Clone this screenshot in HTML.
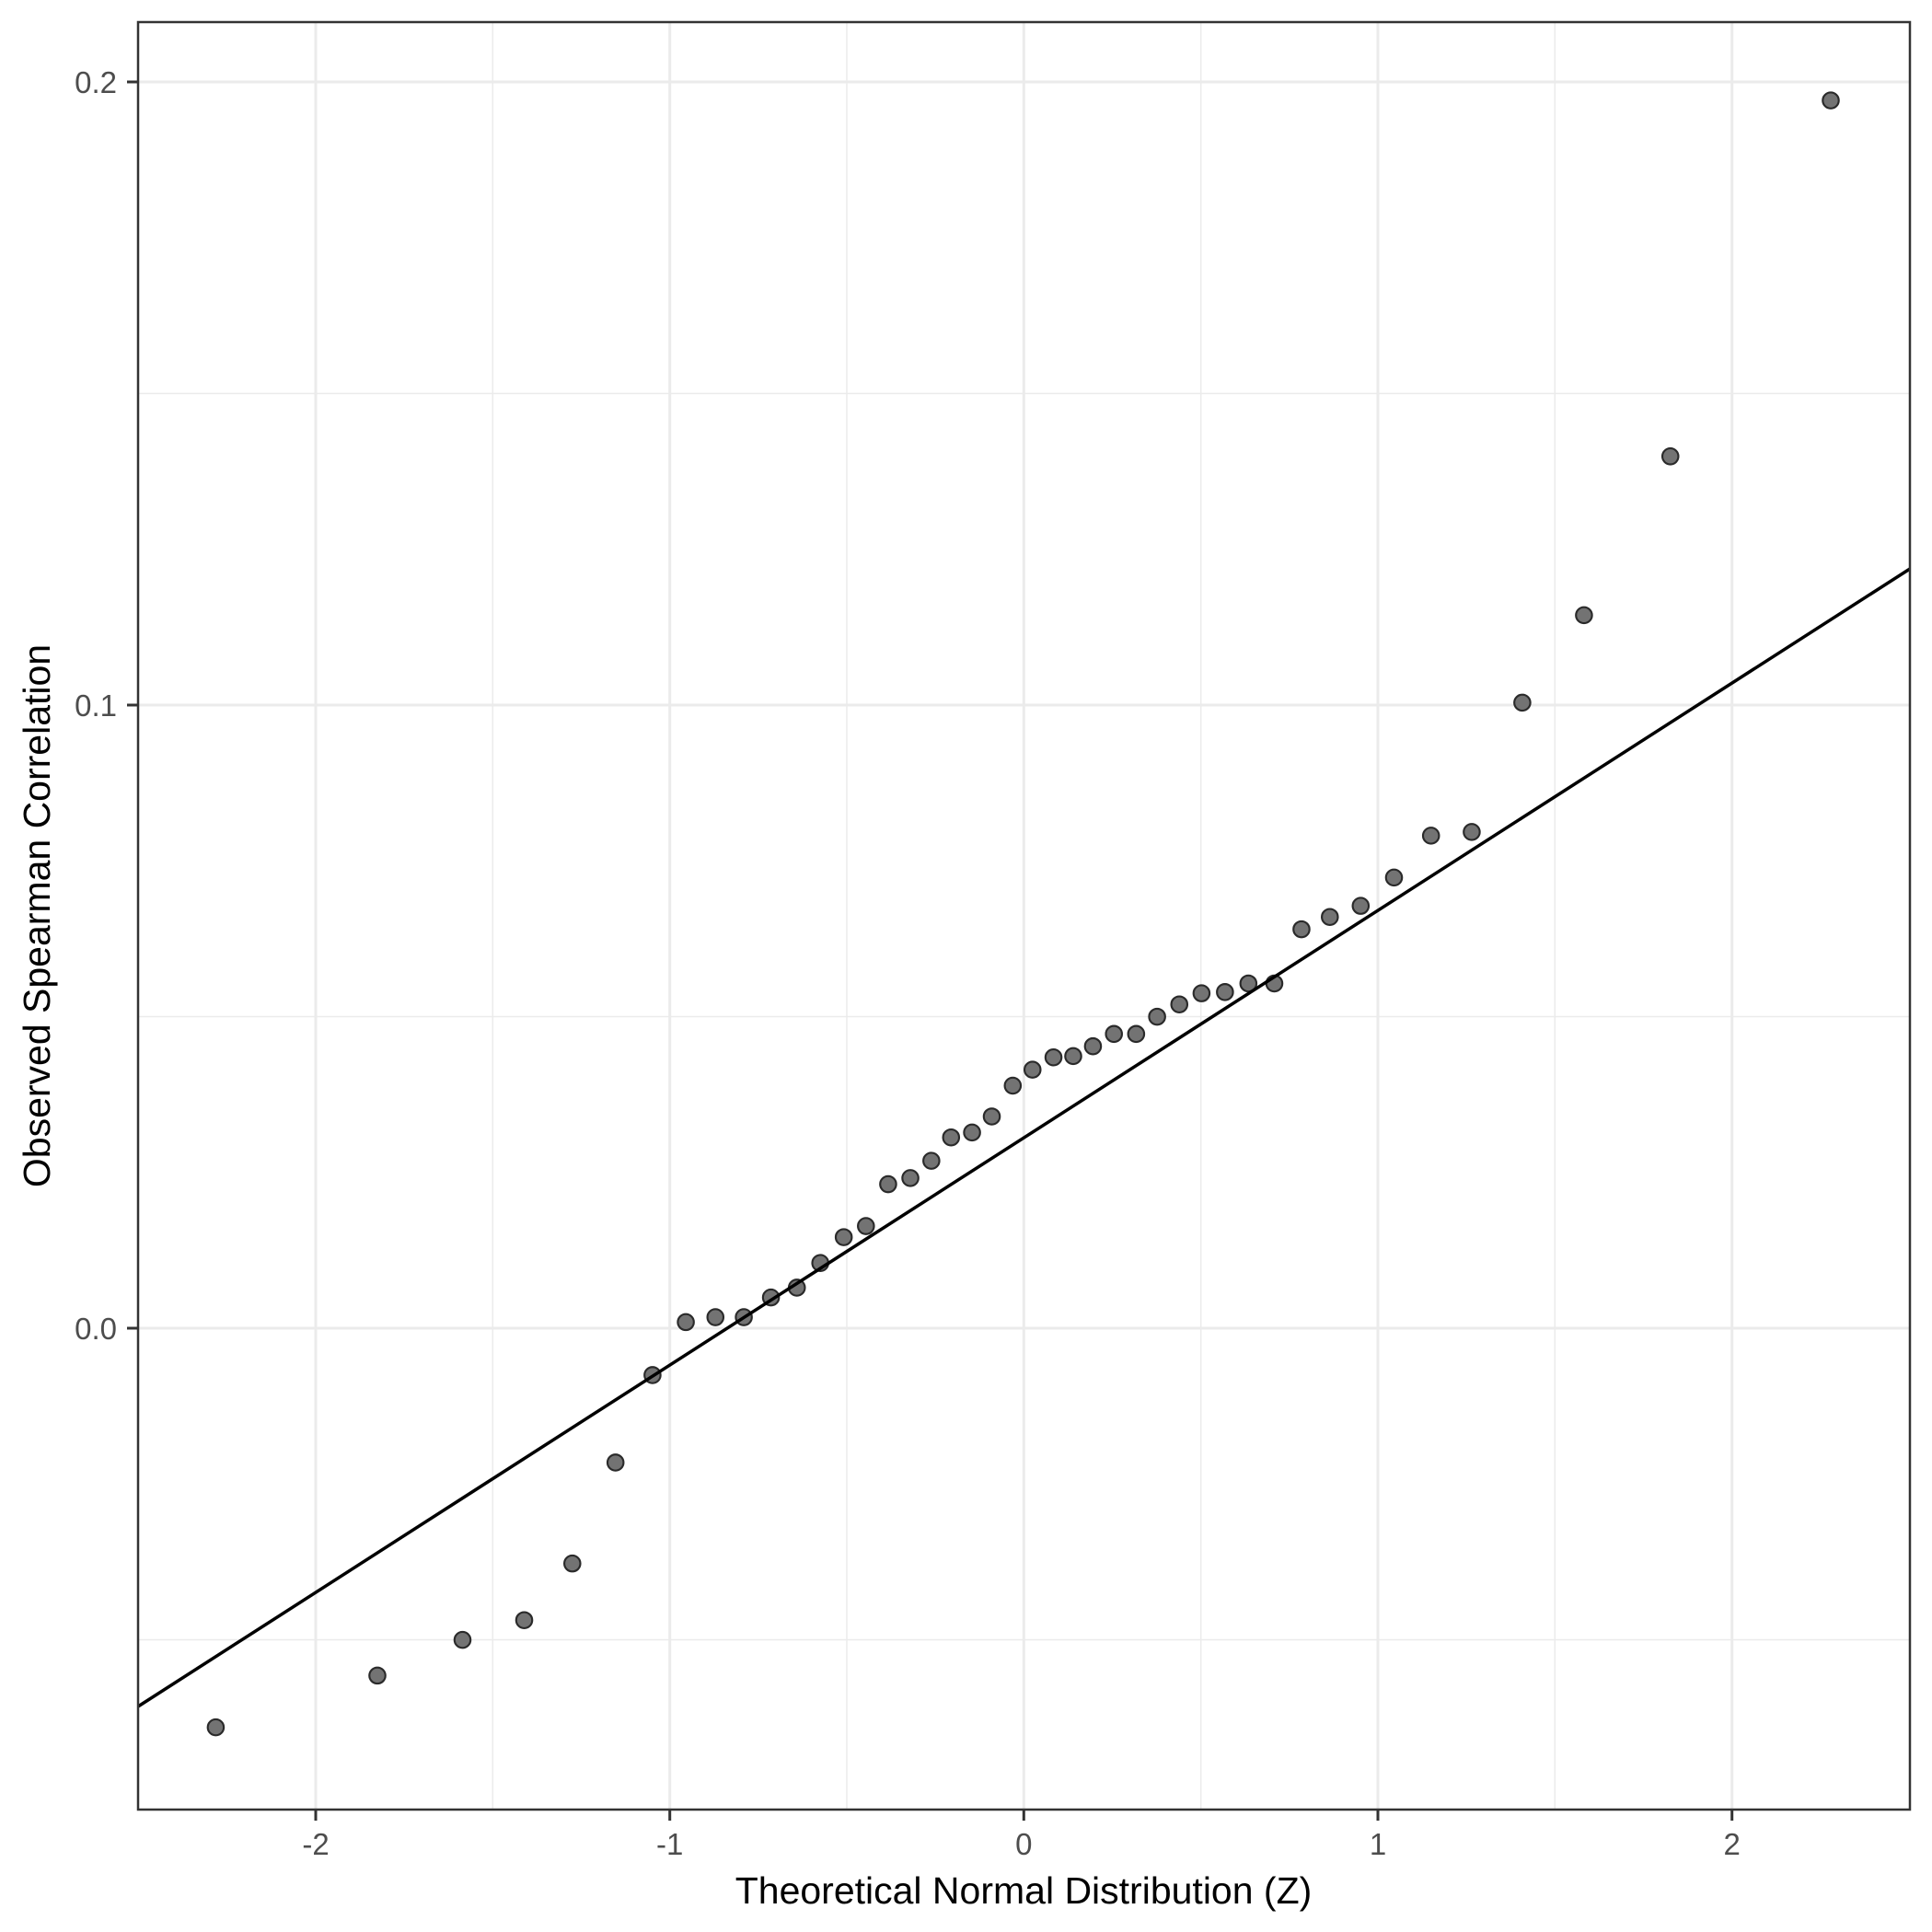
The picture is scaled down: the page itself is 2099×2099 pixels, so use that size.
<!DOCTYPE html>
<html><head><meta charset="utf-8"><style>html,body{margin:0;padding:0;background:#fff}svg{display:block}</style></head>
<body>
<svg width="2099" height="2099" viewBox="0 0 2099 2099" xmlns="http://www.w3.org/2000/svg" font-family="Liberation Sans, sans-serif">
<defs><clipPath id="c"><rect x="150" y="24" width="1925" height="1942"/></clipPath></defs>
<rect width="2099" height="2099" fill="#fff"/>
<g stroke="#ebebeb" stroke-width="1.5">
<line x1="535.3" y1="24" x2="535.3" y2="1966"/><line x1="920" y1="24" x2="920" y2="1966"/>
<line x1="1304.7" y1="24" x2="1304.7" y2="1966"/><line x1="1689.3" y1="24" x2="1689.3" y2="1966"/>
<line x1="150" y1="427.5" x2="2075" y2="427.5"/><line x1="150" y1="1104.5" x2="2075" y2="1104.5"/><line x1="150" y1="1781.5" x2="2075" y2="1781.5"/>
</g>
<g stroke="#ebebeb" stroke-width="3">
<line x1="343" y1="24" x2="343" y2="1966"/><line x1="727.7" y1="24" x2="727.7" y2="1966"/>
<line x1="1112.3" y1="24" x2="1112.3" y2="1966"/><line x1="1497" y1="24" x2="1497" y2="1966"/><line x1="1881.7" y1="24" x2="1881.7" y2="1966"/>
<line x1="150" y1="89" x2="2075" y2="89"/><line x1="150" y1="766" x2="2075" y2="766"/><line x1="150" y1="1443" x2="2075" y2="1443"/>
</g>
<g transform="matrix(1.3404 0 0 1.338 -1.5 -0.6)" fill="#737373" stroke="#2a2a2a" stroke-width="1.6">
<circle cx="176" cy="1403" r="6.5"/><circle cx="307" cy="1361" r="6.5"/><circle cx="376" cy="1332" r="6.5"/><circle cx="426" cy="1316" r="6.5"/>
<circle cx="465" cy="1270" r="6.5"/><circle cx="500" cy="1188" r="6.5"/><circle cx="530" cy="1117" r="6.5"/><circle cx="557" cy="1074" r="6.5"/>
<circle cx="581" cy="1070" r="6.5"/><circle cx="604" cy="1070" r="6.5"/><circle cx="626" cy="1054" r="6.5"/><circle cx="647" cy="1046" r="6.5"/>
<circle cx="666" cy="1026" r="6.5"/><circle cx="685" cy="1005" r="6.5"/><circle cx="703" cy="996" r="6.5"/><circle cx="721" cy="962" r="6.5"/>
<circle cx="739" cy="957" r="6.5"/><circle cx="756" cy="943" r="6.5"/><circle cx="772" cy="924" r="6.5"/><circle cx="789" cy="920" r="6.5"/>
<circle cx="805" cy="907" r="6.5"/><circle cx="822" cy="882" r="6.5"/><circle cx="838" cy="869" r="6.5"/><circle cx="855" cy="859" r="6.5"/>
<circle cx="871" cy="858" r="6.5"/><circle cx="887" cy="850" r="6.5"/><circle cx="904" cy="840" r="6.5"/><circle cx="922" cy="840" r="6.5"/>
<circle cx="939" cy="826" r="6.5"/><circle cx="957" cy="816" r="6.5"/><circle cx="975" cy="807" r="6.5"/><circle cx="994" cy="806" r="6.5"/>
<circle cx="1013" cy="799" r="6.5"/><circle cx="1034" cy="799" r="6.5"/><circle cx="1056" cy="755" r="6.5"/><circle cx="1079" cy="745" r="6.5"/>
<circle cx="1104" cy="736" r="6.5"/><circle cx="1131" cy="713" r="6.5"/><circle cx="1161" cy="679" r="6.5"/><circle cx="1194" cy="676" r="6.5"/>
<circle cx="1235" cy="571" r="6.5"/><circle cx="1285" cy="500" r="6.5"/><circle cx="1355" cy="371" r="6.5"/><circle cx="1485" cy="82" r="6.5"/>
</g>
<g clip-path="url(#c)"><line x1="150" y1="1854" x2="2075" y2="618" stroke="#000" stroke-width="3.5"/></g>
<rect x="150" y="24" width="1925" height="1942" fill="none" stroke="#333" stroke-width="2.5"/>
<g stroke="#333" stroke-width="3">
<line x1="138" y1="89" x2="150" y2="89"/><line x1="138" y1="766" x2="150" y2="766"/><line x1="138" y1="1443" x2="150" y2="1443"/>
<line x1="343" y1="1966" x2="343" y2="1978"/><line x1="727.7" y1="1966" x2="727.7" y2="1978"/><line x1="1112.3" y1="1966" x2="1112.3" y2="1978"/>
<line x1="1497" y1="1966" x2="1497" y2="1978"/><line x1="1881.7" y1="1966" x2="1881.7" y2="1978"/>
</g>
<g fill="#4d4d4d" font-size="33" text-anchor="end">
<text x="127" y="101">0.2</text><text x="127" y="778">0.1</text><text x="127" y="1455">0.0</text>
</g>
<g fill="#4d4d4d" font-size="33" text-anchor="middle">
<text x="343" y="2015">-2</text><text x="727.7" y="2015">-1</text><text x="1112.3" y="2015">0</text>
<text x="1497" y="2015">1</text><text x="1881.7" y="2015">2</text>
</g>
<text x="1112" y="2068" font-size="41" text-anchor="middle" fill="#000">Theoretical Normal Distribution (Z)</text>
<text transform="translate(54,995) rotate(-90)" font-size="41" text-anchor="middle" fill="#000">Observed Spearman Correlation</text>
</svg>
</body></html>
